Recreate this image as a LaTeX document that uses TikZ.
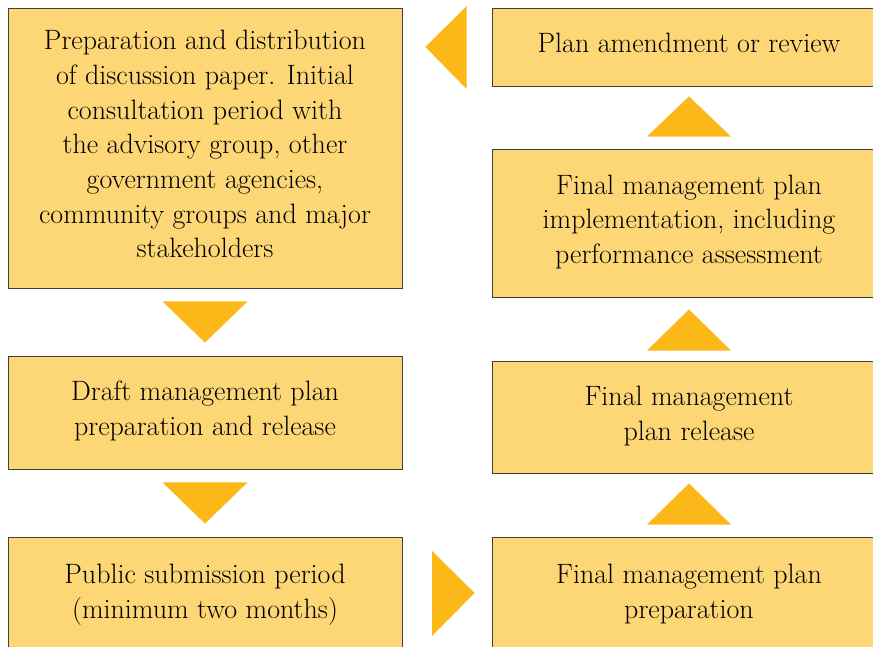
\documentclass[tikz,border=0pt]{standalone}
\usepackage{tikz}
\usetikzlibrary{positioning,calc}
\definecolor{boxfill}{HTML}{FDD675}
\definecolor{arrowfill}{HTML}{FBB818}
\definecolor{boxline}{HTML}{404040}

\begin{document}
\begin{tikzpicture}[x=1pt,y=-1pt,
  stagebox/.style={draw=boxline,line width=0.8pt,fill=boxfill,minimum width=394pt,
    align=center,text depth=8pt,font=\fontsize{28}{34.7}\selectfont},
  pointer/.style={fill=arrowfill}]
  \useasboundingbox (0,0) rectangle (873,647);
  \clip (0,0) rectangle (873,647);
  % left column
  \node[stagebox,minimum height=280pt] (prep) at (205,148) {Preparation and distribution\\
    of discussion paper. Initial\\ consultation period with\\ the advisory group, other\\
    government agencies,\\ community groups and major\\ stakeholders};
  \node[stagebox,minimum height=113pt] (draft) at (205,412.5) {Draft management plan\\ preparation and release};
  \node[stagebox,minimum height=116pt] (public) at (205,595) {Public submission period\\ (minimum two months)};
  % right column
  \node[stagebox,minimum height=116pt] (finalprep) at (689,595) {Final management plan\\ preparation};
  \node[stagebox,minimum height=112pt] (release) at (689,417) {Final management\\ plan release};
  \node[stagebox,minimum height=148pt] (impl) at (689,223) {Final management plan\\
    implementation, including\\ performance assessment};
  \node[stagebox,minimum height=78pt] (amend) at (689,47) {Plan amendment or review};
  % pointers between stages
  \fill[pointer] ($(prep.south)+(-42.5,13)$) -- ($(prep.south)+(42.5,13)$) -- ($(draft.north)+(0,-13)$) -- cycle;
  \fill[pointer] ($(draft.south)+(-42.5,13)$) -- ($(draft.south)+(42.5,13)$) -- ($(public.north)+(0,-13)$) -- cycle;
  \fill[pointer] (432,551) -- (432,636) -- ($(finalprep.west)+(-17,-2)$) -- cycle;
  \fill[pointer] ($(finalprep.north)+(-42,-12)$) -- ($(finalprep.north)+(42,-12)$) -- ($(release.south)+(0,10)$) -- cycle;
  \fill[pointer] ($(release.north)+(-42,-10)$) -- ($(release.north)+(42,-10)$) -- ($(impl.south)+(0,12)$) -- cycle;
  \fill[pointer] ($(impl.north)+(-42,-12)$) -- ($(impl.north)+(42,-12)$) -- ($(amend.south)+(0,10)$) -- cycle;
  \fill[pointer] ($(amend.west)+(-25,-41)$) -- ($(amend.west)+(-25,42)$) -- ($(prep.east|-amend.west)+(23,0)$) -- cycle;
\end{tikzpicture}
\end{document}
